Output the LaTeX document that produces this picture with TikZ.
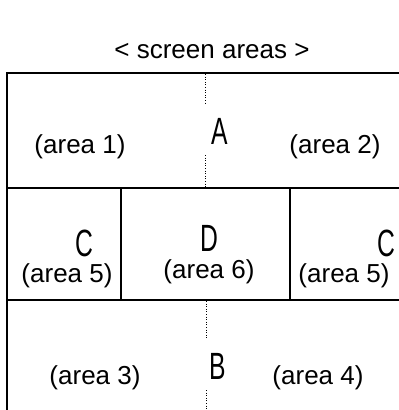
\documentclass[tikz,border=0pt]{standalone}
\usepackage{fontspec}
\setmainfont{Liberation Sans}
\usepackage{graphicx}
\tikzset{
  area label/.style={inner sep=0pt, font=\fontsize{26}{30}\selectfont},
  zone letter/.style={inner sep=0pt, font=\fontsize{26}{30}\selectfont},
  frame line/.style={line width=1.6pt},
  split line/.style={line width=1pt, dash pattern=on 1pt off 1.6pt},
}
\newcommand{\zoneletter}[1]{\scalebox{0.95}[1.46]{#1}}
\begin{document}
\begin{tikzpicture}[x=1pt,y=-1pt]
        \useasboundingbox (0,0) rectangle (399,410);
        % outer frame of the screen (right side runs off the page)
        \draw[frame line] (7,410)--(7,73)--(400,73);
        % middle band
        \draw[frame line] (7,188)--(400,188);
        \draw[frame line] (7,300)--(400,300);
        \draw[frame line] (121,188)--(121,300);
        \draw[frame line] (290,188)--(290,300);
        % dotted centre split
        \draw[split line] (205,74)--(205,103);
        \draw[split line] (205,155)--(205,187);
        \draw[split line] (206,301)--(206,338);
        \draw[split line] (206,390)--(206,410);
        % texts
        \node[area label] (title) at (212,51) {< screen areas >};
        \node[zone letter] (A) at (219.5,131) {\zoneletter{A}};
        \node[area label] (a1) at (80,147) {(area 1)};
        \node[area label] (a2) at (335,147) {(area 2)};
        \node[zone letter] (Cl) at (84,243) {\zoneletter{C}};
        \node[zone letter] (D) at (209,238) {\zoneletter{D}};
        \node[zone letter] (Cr) at (386,243) {\zoneletter{C}};
        \node[area label] (a5l) at (67,276) {(area 5)};
        \node[area label] (a6) at (209,272) {(area 6)};
        \node[area label] (a5r) at (344,276) {(area 5)};
        \node[zone letter] (B) at (218,366) {\zoneletter{B}};
        \node[area label] (a3) at (95,378) {(area 3)};
        \node[area label] (a4) at (318,378) {(area 4)};
    \end{tikzpicture}
\end{document}
